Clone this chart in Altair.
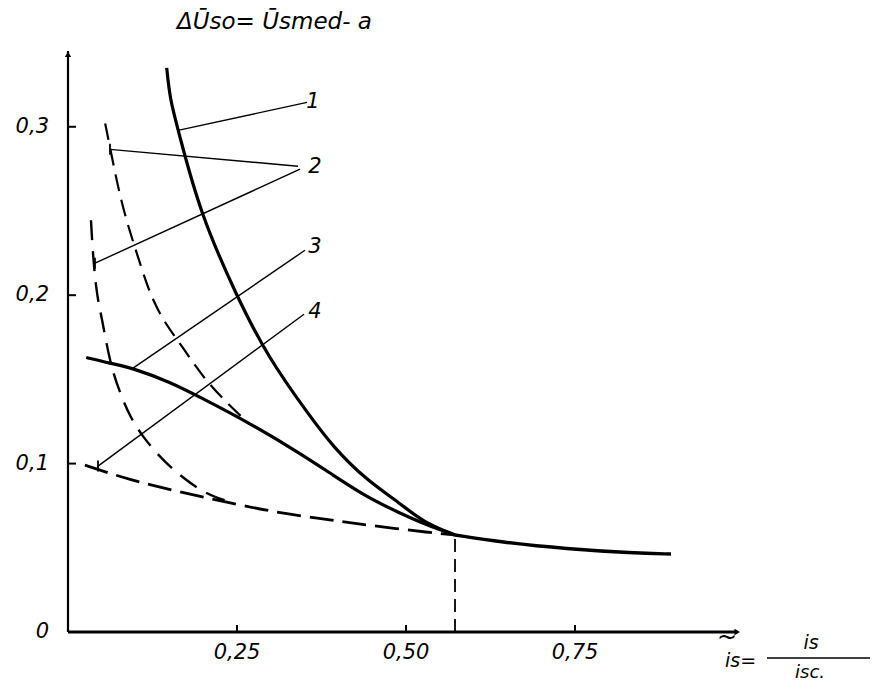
import altair as alt
import pandas as pd

# ---- data ----
c1_x = [0.146, 0.151, 0.163, 0.195, 0.250, 0.296, 0.358, 0.392, 0.442, 0.491, 0.525, 0.5725]
c1_y = [0.335, 0.316, 0.298, 0.249, 0.199, 0.163, 0.128, 0.110, 0.090, 0.0766, 0.0653, 0.0576]

c3_x = [0.027, 0.062, 0.096, 0.151, 0.195, 0.269, 0.343, 0.392, 0.442, 0.491, 0.531, 0.5725]
c3_y = [0.163, 0.1596, 0.1567, 0.1484, 0.1395, 0.124, 0.1062, 0.0932, 0.0801, 0.0706, 0.0635, 0.0576]

c2a_x = [0.055, 0.062, 0.077, 0.092, 0.1065, 0.121, 0.1405, 0.170, 0.200, 0.235, 0.268]
c2a_y = [0.302, 0.288, 0.258, 0.237, 0.219, 0.201, 0.185, 0.169, 0.151, 0.136, 0.1235]

c2b_x = [0.034, 0.037, 0.043, 0.050, 0.062, 0.077, 0.092, 0.111, 0.136, 0.161, 0.195, 0.220, 0.247]
c2b_y = [0.2445, 0.2226, 0.1988, 0.1869, 0.1596, 0.1418, 0.1276, 0.1157, 0.1039, 0.0944, 0.0843, 0.0795, 0.0766]

c4_x = [0.025, 0.092, 0.166, 0.240, 0.314, 0.388, 0.442, 0.540, 0.5725]
c4_y = [0.0991, 0.0902, 0.0831, 0.0766, 0.0706, 0.0665, 0.0635, 0.0588, 0.0576]

tail_x = [0.5725, 0.639, 0.738, 0.836, 0.892]
tail_y = [0.0576, 0.0534, 0.0493, 0.0469, 0.0463]

marker_x = 0.5725
marker_y = 0.0576

# leader lines: (x_curve, y_curve, x_label, y_label)
leaders = [
    (0.1627, 0.2979, 0.3536, 0.3145),
    (0.0621, 0.2866, 0.3402, 0.2766),
    (0.0399, 0.2190, 0.3432, 0.2748),
    (0.0962, 0.1567, 0.3506, 0.2267),
    (0.0444, 0.0985, 0.3491, 0.1887),
]
leader_end_x = [0.0621, 0.0399, 0.0444]
leader_end_y = [0.2866, 0.2190, 0.0985]

curve_labels = ["1", "2", "3", "4"]
curve_label_x = [0.3624, 0.3654, 0.3654, 0.3654]
curve_label_y = [0.3145, 0.276, 0.2285, 0.19]

x_ticks = [0.25, 0.50, 0.75]
x_tick_labels = ["0,25", "0,50", "0,75"]
y_ticks = [0.1, 0.2, 0.3]
y_label_values = [0.0, 0.1, 0.2, 0.3]
y_tick_labels = ["0", "0,1", "0,2", "0,3"]

FONT = "DejaVu Sans"
W, H = 676, 581
XS = alt.Scale(domain=[0, 1.0], nice=False, zero=False)
YS = alt.Scale(domain=[0, 0.345], nice=False, zero=False)


def frame(xs, ys):
    return pd.DataFrame({"x": xs, "y": ys, "o": list(range(len(xs)))})


def line(xs, ys, width, dash=None):
    kw = dict(color="black", strokeWidth=width, interpolate="basis", strokeCap="butt")
    if dash:
        kw["strokeDash"] = dash
    return alt.Chart(frame(xs, ys)).mark_line(**kw).encode(
        x=alt.X("x:Q", scale=XS, axis=None),
        y=alt.Y("y:Q", scale=YS, axis=None),
        order="o:Q",
    )


# axes (lines)
axis_df = pd.DataFrame({"x": [0.0], "x2": [0.99], "y": [0.0], "y2": [0.345]})
x_axis = alt.Chart(axis_df).mark_rule(color="black", strokeWidth=3).encode(
    x=alt.X("x:Q", scale=XS, axis=None), x2="x2:Q",
    y=alt.Y("y:Q", scale=YS, axis=None),
)
y_axis = alt.Chart(axis_df).mark_rule(color="black", strokeWidth=2.2).encode(
    x=alt.X("x:Q", scale=XS, axis=None), y=alt.Y("y:Q", scale=YS, axis=None), y2="y2:Q"
)
arrows = alt.Chart(pd.DataFrame({"x": [0.0, 0.99], "y": [0.343, 0.0],
                                 "s": ["triangle-up", "triangle-right"]})).mark_point(
    filled=True, color="black", size=40, opacity=1
).encode(x=alt.X("x:Q", scale=XS, axis=None), y=alt.Y("y:Q", scale=YS, axis=None),
         shape=alt.Shape("s:N", scale=None))

xt = alt.Chart(pd.DataFrame({"x": x_ticks})).mark_rule(color="black", strokeWidth=2).encode(
    x=alt.X("x:Q", scale=XS, axis=None), y=alt.value(H), y2=alt.value(H - 7))
yt = alt.Chart(pd.DataFrame({"y": y_ticks})).mark_rule(color="black", strokeWidth=2).encode(
    y=alt.Y("y:Q", scale=YS, axis=None), x=alt.value(0), x2=alt.value(8))

xl = alt.Chart(pd.DataFrame({"x": x_ticks, "t": x_tick_labels})).mark_text(
    font=FONT, fontStyle="italic", fontSize=21, color="black", align="center", baseline="middle"
).encode(x=alt.X("x:Q", scale=XS, axis=None), y=alt.value(H + 21), text="t:N")
yl = alt.Chart(pd.DataFrame({"y": y_label_values, "t": y_tick_labels})).mark_text(
    font=FONT, fontStyle="italic", fontSize=21, color="black", align="right", baseline="middle"
).encode(y=alt.Y("y:Q", scale=YS, axis=None), x=alt.value(-19), text="t:N")

# curves
l1 = line(c1_x, c1_y, 3.2)
l3 = line(c3_x, c3_y, 3.2)
ltail = line(tail_x, tail_y, 3.4)
l2a = line(c2a_x, c2a_y, 2.2, [17, 9])
l2b = line(c2b_x, c2b_y, 2.4, [20, 11])
l4 = line(c4_x, c4_y, 2.8, [24, 9])

vdash = alt.Chart(pd.DataFrame({"x": [marker_x], "y": [0.0], "y2": [marker_y]})).mark_rule(
    color="black", strokeWidth=1.8, strokeDash=[13, 7]
).encode(x=alt.X("x:Q", scale=XS, axis=None), y=alt.Y("y:Q", scale=YS, axis=None), y2="y2:Q")

lead_df = pd.DataFrame(leaders, columns=["x", "y", "x2", "y2"])
lead = alt.Chart(lead_df).mark_rule(color="black", strokeWidth=1.4).encode(
    x=alt.X("x:Q", scale=XS, axis=None), y=alt.Y("y:Q", scale=YS, axis=None), x2="x2:Q", y2="y2:Q")

lead_ends = alt.Chart(pd.DataFrame({"x": leader_end_x, "y": leader_end_y})).mark_tick(
    color="black", orient="vertical", size=11, thickness=1.8, opacity=1
).encode(x=alt.X("x:Q", scale=XS, axis=None), y=alt.Y("y:Q", scale=YS, axis=None))

labels = alt.Chart(pd.DataFrame({"x": curve_label_x, "y": curve_label_y, "t": curve_labels})).mark_text(
    font=FONT, fontStyle="italic", fontSize=21, color="black", align="center", baseline="middle"
).encode(x=alt.X("x:Q", scale=XS, axis=None), y=alt.Y("y:Q", scale=YS, axis=None), text="t:N")

one = pd.DataFrame({"a": [0]})


def ptext(txt, px, py, size=21, align="left"):
    return alt.Chart(one).mark_text(
        text=txt, font=FONT, fontStyle="italic", fontSize=size, color="black",
        align=align, baseline="middle"
    ).encode(x=alt.value(px), y=alt.value(py))


title = ptext("\u0394U\u0304so= U\u0304smed- a", 109, -29, 23)
tilde = ptext("~", 659, 6 + H, 24, "center")
is_eq = ptext("is=", 657, 29 + H, 19)
num = ptext("is", 743, 11 + H, 19, "center")
den = ptext("isc.", 742, 41 + H, 18, "center")
frac = alt.Chart(one).mark_rule(color="black", strokeWidth=1.6).encode(
    x=alt.value(699), x2=alt.value(802), y=alt.value(H + 26))

chart = alt.layer(
    x_axis, y_axis, arrows, xt, yt, xl, yl, vdash, l4, l2a, l2b, l3, l1, ltail, lead, lead_ends,
    labels, title, tilde, is_eq, num, den, frac
).properties(
    width=W, height=H,
    padding={"left": 60, "top": 43, "right": 130, "bottom": 50},
    autosize=alt.AutoSizeParams(type="none"),
    background="white",
).configure_view(stroke=None)

chart.save("out.html", embed_options={"renderer": "svg", "actions": False})
